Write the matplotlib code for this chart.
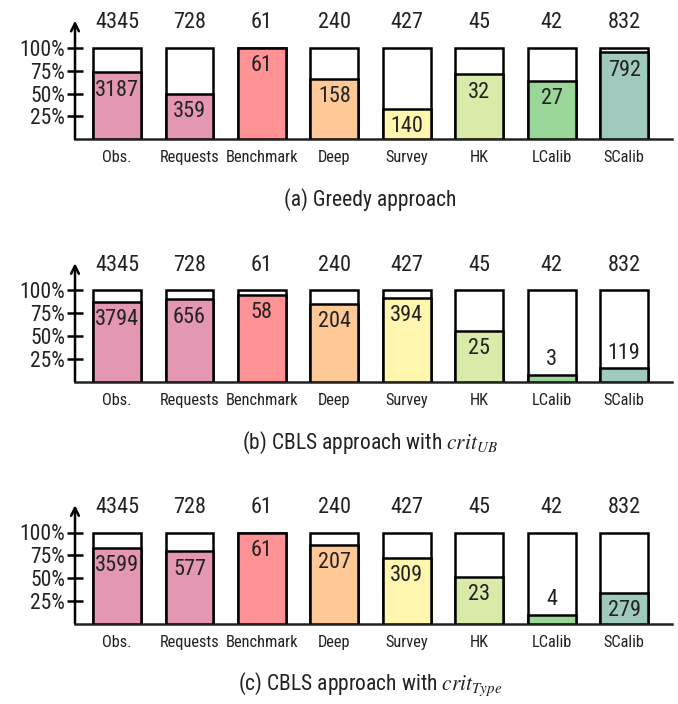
import numpy as np
import matplotlib
matplotlib.use("Agg")
import matplotlib.pyplot as plt
from matplotlib import font_manager

categories = ["Obs.", "Requests", "Benchmark", "Deep", "Survey", "HK", "LCalib", "SCalib"]
totals = [4345, 728, 61, 240, 427, 45, 42, 832]
greedy = [3187, 359, 61, 158, 140, 32, 27, 792]
cbls_ub = [3794, 656, 58, 204, 394, 25, 3, 119]
cbls_type = [3599, 577, 61, 207, 309, 23, 4, 279]
captions = ["(a) Greedy approach",
            "(b) CBLS approach with $crit_{UB}$",
            "(c) CBLS approach with $crit_{Type}$"]
colors = ["#E397B3", "#E397B3", "#FE9294", "#FFC997", "#FFF6AF", "#D9EAA9", "#99D697", "#A0CABD"]

# narrow sans, like Helvetica Narrow in the original
names = {f.name for f in font_manager.fontManager.ttflist}
wanted = ["Nimbus Sans Narrow", "Liberation Sans Narrow", "Roboto Condensed",
          "Archivo Narrow", "Barlow Semi Condensed", "Liberation Sans"]
narrow = [n for n in wanted if n in names][0]
plt.rcParams["font.family"] = [narrow, "DejaVu Sans"]
plt.rcParams["mathtext.fontset"] = "stix"
txt = "#222222"

fig = plt.figure(figsize=(6.78, 7.04), dpi=100)
W, H = 678, 704
baselines = [139, 381.5, 623.5]
unit = 91
ytop = 1.30

x = np.arange(len(categories))
for base, vals, cap in zip(baselines, [greedy, cbls_ub, cbls_type], captions):
    top_px = base - ytop * unit
    ax = fig.add_axes([75 / W, 1 - base / H, (672 - 75) / W, (base - top_px) / H])
    ax.set_xlim(-0.58, 7.66)
    ax.set_ylim(0, ytop)
    fracs = np.array(vals) / np.array(totals)
    ax.bar(x, np.ones(len(x)), width=0.66, color="white", edgecolor="black", linewidth=1.8, zorder=2)
    ax.bar(x, fracs, width=0.66, color=colors, edgecolor="black", linewidth=1.8, zorder=3)
    for xi, f, v, t in zip(x, fracs, vals, totals):
        if f > 0.30:
            ax.text(xi, f - 0.08, str(v), ha="center", va="top", fontsize=16, color=txt, zorder=4)
        else:
            ax.text(xi, f + 0.05, str(v), ha="center", va="bottom", fontsize=16, color=txt, zorder=4)
        ax.text(xi, 1.28, str(t), ha="center", va="center", fontsize=16, color=txt, clip_on=False)
    for s in ["top", "right", "left"]:
        ax.spines[s].set_visible(False)
    ax.spines["bottom"].set_linewidth(1.8)
    ax.spines["bottom"].set_color("#222222")
    ax.annotate("", xy=(0, 1.0), xycoords="axes fraction", xytext=(0, 0),
                textcoords="axes fraction",
                arrowprops=dict(arrowstyle="->", lw=1.8, color="black",
                                mutation_scale=14, shrinkA=0, shrinkB=0))
    ax.set_yticks([0.25, 0.5, 0.75, 1.0])
    ax.set_yticklabels(["25%", "50%", "75%", "100%"], fontsize=15.5, color=txt)
    ax.tick_params(axis="y", direction="inout", length=12, width=1.8, pad=1)
    ax.set_xticks(x)
    ax.set_xticklabels(categories, fontsize=11.8, color=txt)
    ax.tick_params(axis="x", length=0, pad=8)
    fig.text(370 / W, 1 - (base + 61) / H, cap, ha="center", va="center", fontsize=15.5, color=txt)

fig.savefig("out.png", dpi=100)
